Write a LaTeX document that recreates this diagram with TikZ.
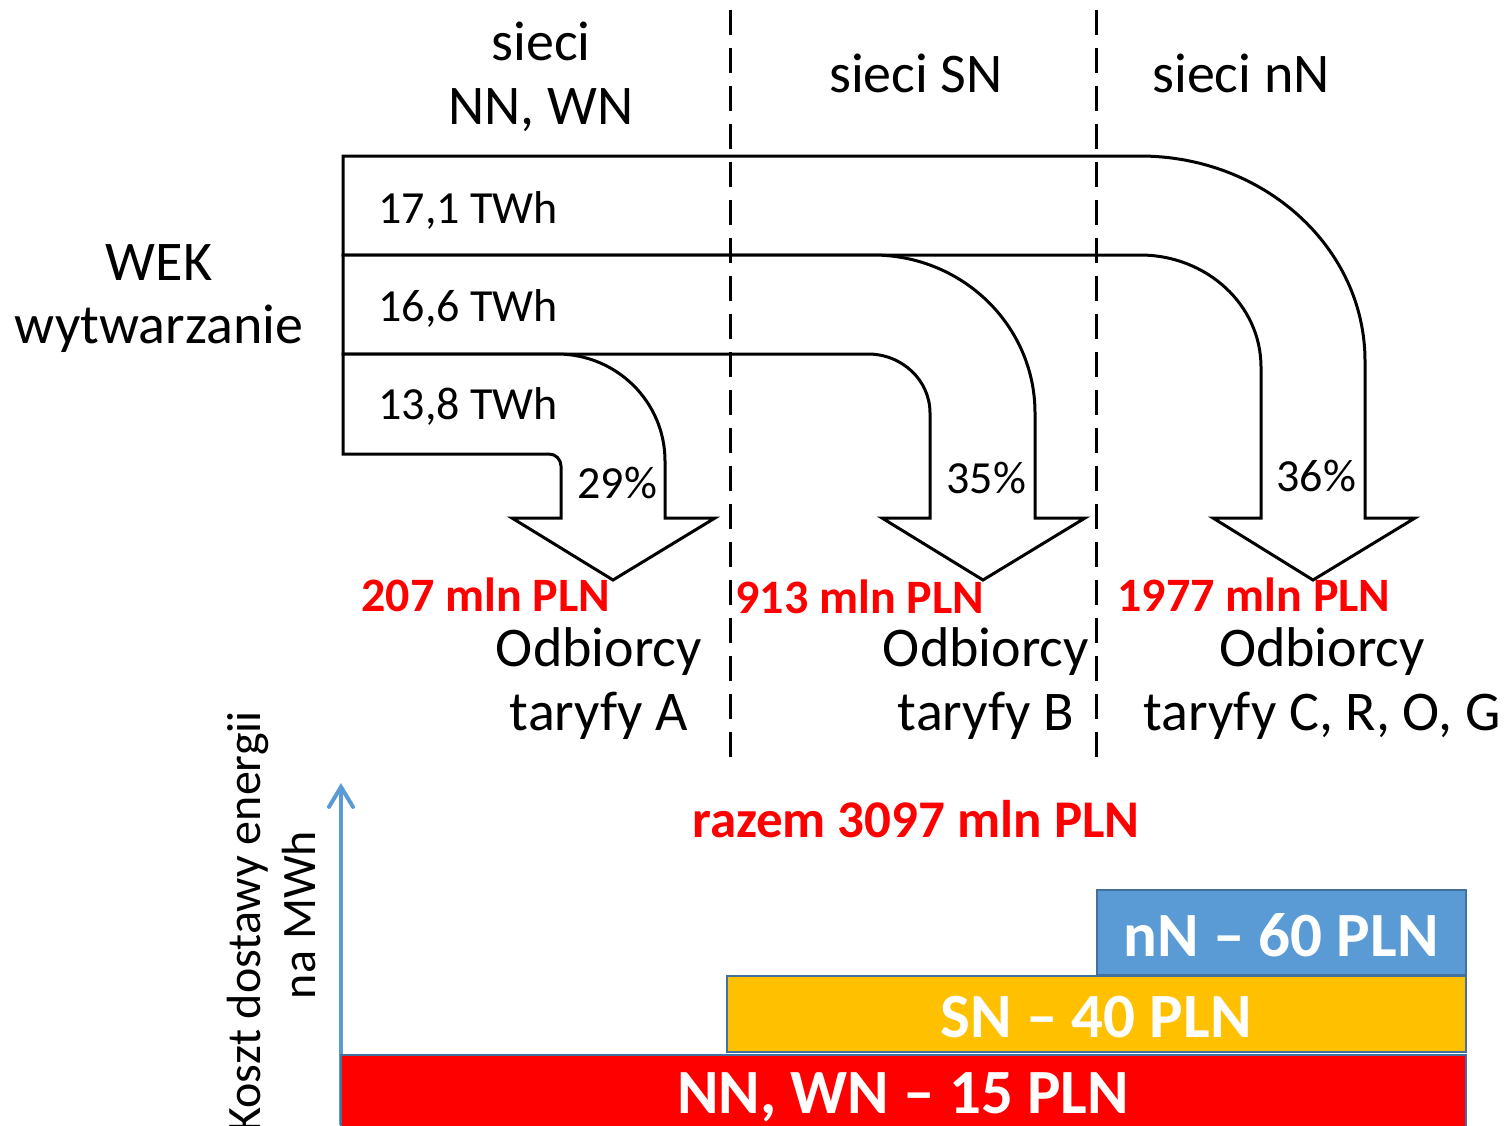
\documentclass[tikz,border=0pt]{standalone}
\usepackage{fontspec}
\setmainfont{Carlito}
\usetikzlibrary{arrows.meta}
\definecolor{axblue}{HTML}{5B9BD5}
\definecolor{barborder}{HTML}{41719C}
\definecolor{baryellow}{HTML}{FFC000}
\definecolor{pred}{HTML}{FF0000}
\begin{document}
\begin{tikzpicture}[x=0.5pt,y=-0.5pt,
  band/.style={draw=black,line width=1.5pt,fill=white},
  divider/.style={draw=black,line width=1.5pt,dash pattern=on 12.5pt off 6.5pt},
  head/.style={font=\fontsize{28}{32}\selectfont,anchor=base,inner sep=0pt},
  lbl/.style={font=\fontsize{23}{27}\selectfont,anchor=base west,inner sep=0pt},
  cost/.style={font=\bfseries\fontsize{24}{28}\selectfont,text=pred,anchor=base west,inner sep=0pt},
  total/.style={font=\bfseries\fontsize{26.5}{30}\selectfont,text=pred,anchor=base,inner sep=0pt},
  axlbl/.style={font=\fontsize{24}{28}\selectfont,anchor=base,inner sep=0pt,rotate=90},
  bartxt/.style={font=\bfseries\fontsize{31.5}{36}\selectfont,text=white,anchor=base,inner sep=0pt},
  bar/.style={draw=barborder,line width=1pt},
]
\useasboundingbox (0,0) rectangle (1508,1125);
\fill[white] (0,0) rectangle (1508,1125);

% band 1 (to nN)
\path[band] (343,156) -- (1140,156)
  .. controls (1264.3,156) and (1365,247.8) .. (1365,361)
  -- (1365,518) -- (1415,518) -- (1313,580) -- (1213,518) -- (1261,518) -- (1261,367)
  .. controls (1261,305.1) and (1206.8,255) .. (1140,255)
  -- (343,255) -- cycle;
% band 2 (to SN)
\path[band] (343,255) -- (873,255)
  .. controls (962.5,255) and (1035,325.7) .. (1035,413)
  -- (1035,518) -- (1085,518) -- (983,580) -- (882,518) -- (930,518) -- (930,413)
  .. controls (930,380.4) and (902.2,354) .. (868,354)
  -- (343,354) -- cycle;
% band 3 (to NN, WN)
\path[band] (343,354) -- (557,354)
  .. controls (616.6,354) and (665,401.9) .. (665,461)
  -- (665,518) -- (715,518) -- (613,580) -- (512,518) -- (561,518) -- (561,466)
  .. controls (561,459.4) and (555.6,454) .. (549,454)
  -- (343,454) -- cycle;

% dividers
\coordinate (d1t) at (730,10);
\coordinate (d1b) at (730,760);
\coordinate (d2t) at (1096,10);
\coordinate (d2b) at (1096,760);
\draw[divider] (d1t) -- (d1b);
\draw[divider] (d2t) -- (d2b);

% headings
\node[head] (h1a) at (541,60) {sieci};
\node[head] (h1b) at (541,124) {NN, WN};
\node[head] (h2) at (916,92) {sieci SN};
\node[head] (h3) at (1241,92) {sieci nN};
\node[head] (wek) at (159,280) {WEK};
\node[head] (wyt) at (159,343) {wytwarzanie};

% band labels
\node[lbl] (t1) at (378,223) {17,1 TWh};
\node[lbl] (t2) at (378,321) {16,6 TWh};
\node[lbl] (t3) at (378,419) {13,8 TWh};
\node[lbl] (p1) at (577,498) {29\%};
\node[lbl] (p2) at (946,493) {35\%};
\node[lbl] (p3) at (1276,491) {36\%};

% costs
\node[cost] (c1) at (361,611) {207 mln PLN};
\node[cost] (c2) at (735,613) {913 mln PLN};
\node[cost] (c3) at (1117,611) {1977 mln PLN};

% consumers
\node[head] (oA1) at (599,666) {Odbiorcy};
\node[head] (oA2) at (599,730) {taryfy A};
\node[head] (oB1) at (986,666) {Odbiorcy};
\node[head] (oB2) at (986,730) {taryfy B};
\node[head] (oC1) at (1322,666) {Odbiorcy};
\node[head] (oC2) at (1322,730) {taryfy C, R, O, G};

\node[total] (tot) at (916,837) {razem 3097 mln PLN};

% axis
\coordinate (axbot) at (341,1125);
\coordinate (axtop) at (341,783);
\draw[axblue,line width=2pt,-{Straight Barb[length=10pt,width=12pt,line cap=round]}] (axbot) -- (axtop);
\node[axlbl] (ay1) at (260,922) {Koszt dostawy energii};
\node[axlbl] (ay2) at (315,915) {na MWh};

% bars
\path[bar,fill=pred] (341,1055) rectangle (1466,1140);
\path[bar,fill=baryellow] (727,976) rectangle (1466,1052);
\path[bar,fill=axblue] (1097,890) rectangle (1466,975);
\node[bartxt] (b1) at (903,1113) {NN, WN – 15 PLN};
\node[bartxt] (b2) at (1096,1037) {SN – 40 PLN};
\node[bartxt] (b3) at (1281,956) {nN – 60 PLN};
\end{tikzpicture}
\end{document}
